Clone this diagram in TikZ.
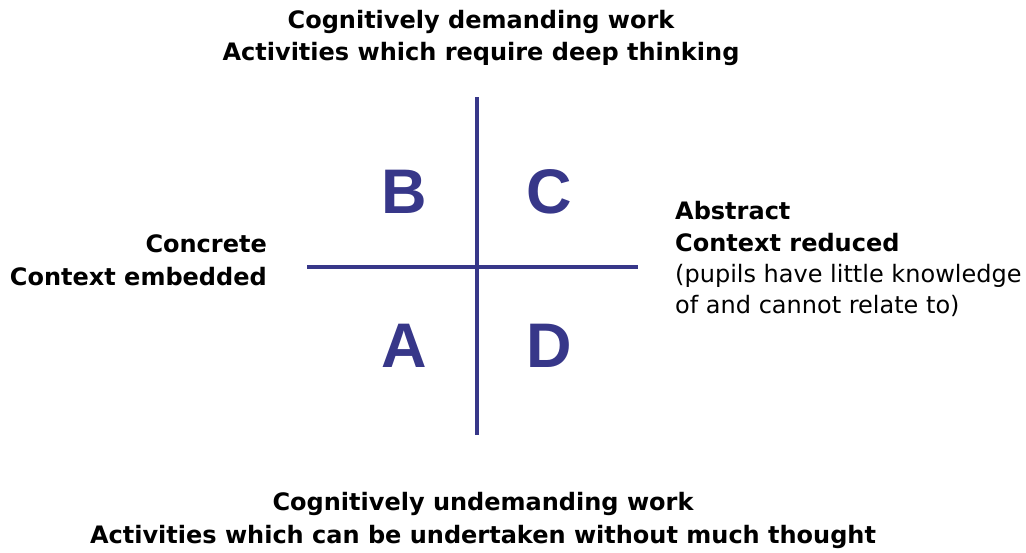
\documentclass[tikz,border=0pt]{standalone}
\usepackage{fontspec}
\setmainfont{DejaVu Sans}
\newfontfamily\quadfont{Liberation Sans}
\definecolor{quadblue}{RGB}{55,55,137}
\begin{document}
\begin{tikzpicture}[x=1pt,y=-1pt,
  lbl/.style={inner sep=0pt, font=\fontsize{24}{31.5}\selectfont\bfseries, anchor=base},
  quad/.style={inner sep=0pt, text=quadblue, font=\quadfont\fontsize{63}{63}\selectfont\bfseries, anchor=base},
  axis/.style={draw=quadblue, line width=4pt}]
\useasboundingbox (0,0) rectangle (1026,552);
\coordinate (vtop) at (477,97);
\coordinate (vbot) at (477,435);
\coordinate (hl) at (307,267);
\coordinate (hr) at (638,267);
\draw[axis] (vtop) -- (vbot);
\draw[axis] (hl) -- (hr);
\node[quad] (B) at (404,213) {B};
\node[quad] (C) at (549,213) {C};
\node[quad] (A) at (404,367) {A};
\node[quad] (D) at (549,367) {D};
\node[lbl] (t1) at (481,28) {Cognitively demanding work};
\node[lbl] (t2) at (481,60) {Activities which require deep thinking};
\node[lbl] (b1) at (483,510) {Cognitively undemanding work};
\node[lbl] (b2) at (483,543) {Activities which can be undertaken without much thought};
\node[lbl, anchor=base east] (l1) at (267,252) {Concrete};
\node[lbl, anchor=base east] (l2) at (267,285) {Context embedded};
\node[lbl, anchor=base west] (r1) at (675,219) {Abstract};
\node[lbl, anchor=base west] (r2) at (675,251) {Context reduced};
\node[lbl, anchor=base west, font=\fontsize{24}{31.5}\selectfont] (r3) at (675,282) {(pupils have little knowledge};
\node[lbl, anchor=base west, font=\fontsize{24}{31.5}\selectfont] (r4) at (675,313) {of and cannot relate to)};
\end{tikzpicture}
\end{document}
